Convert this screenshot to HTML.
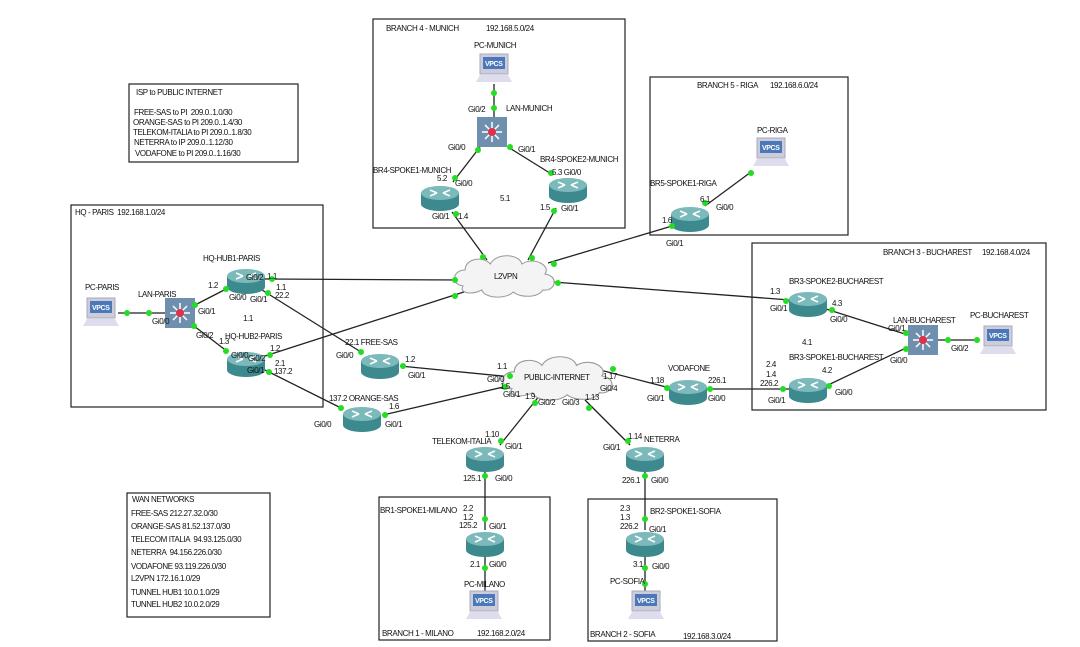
<!DOCTYPE html>
<html><head><meta charset="utf-8"><style>
html,body{margin:0;padding:0;background:#fff;}
svg{display:block;}
text{font-family:"Liberation Sans",sans-serif;font-size:8px;fill:#111;letter-spacing:-0.4px;white-space:pre;}
.b{fill:none;stroke:#222;stroke-width:1.2;}
.l{stroke:#222;stroke-width:1.3;}
.d{fill:#22dd22;}
</style></head><body>
<svg width="1080" height="647" viewBox="0 0 1080 647" xmlns="http://www.w3.org/2000/svg" xml:space="preserve">
<defs>
<g id="r">
<path d="M-19,-5 L-19,6 A19,7 0 0 0 19,6 L19,-5 Z" fill="#3c8a8e"/>
<ellipse cx="0" cy="-5" rx="19" ry="7" fill="#7bb9bb"/>
<path d="M-10,-8 L-3,-5 M-10,-2 L-3,-5 M10,-8 L3,-5 M10,-2 L3,-5" stroke="#fff" stroke-width="1.5"/>
</g>
<g id="s">
<rect x="-15" y="-15" width="30" height="30" fill="#6f8fae"/>
<path d="M-10,0 H10 M0,-10 V10 M-7,-7 L7,7 M7,-7 L-7,7" stroke="#fff" stroke-width="1.5"/>
<circle r="4" fill="#e0304a"/>
</g>
<g id="p">
<rect x="-14" y="-14" width="28" height="20" fill="#ccd" stroke="#aab"/>
<rect x="-11" y="-11" width="22" height="12" fill="#4a78b8"/>
<text x="-9" y="-2" style="fill:#fff;font-size:7px;font-weight:bold">VPCS</text>
<path d="M-18,14 L18,14 L14,7 L-14,7 Z" fill="#dde"/>
</g>
<path id="c" d="M-40,10 C-52,8 -50,-6 -38,-6 C-38,-18 -20,-20 -14,-12 C-8,-24 14,-22 16,-12 C28,-20 44,-10 38,-2 C52,0 48,16 36,14 C32,22 14,22 8,16 C0,24 -20,22 -22,14 C-34,20 -44,16 -40,10 Z" fill="#f4f4f4" stroke="#999" stroke-width="1"/>
</defs>

<rect class="b" x="129" y="84" width="169" height="78"/>
<rect class="b" x="71" y="205" width="252" height="202"/>
<rect class="b" x="373" y="19" width="252" height="209"/>
<rect class="b" x="650" y="77" width="198" height="158"/>
<rect class="b" x="752" y="243" width="294" height="167"/>
<rect class="b" x="127" y="493" width="143" height="124"/>
<rect class="b" x="379" y="497" width="171" height="143"/>
<rect class="b" x="588" y="499" width="189" height="142"/>

<g class="l">
<line x1="118" y1="313" x2="165" y2="313"/>
<line x1="195" y1="305" x2="228" y2="288"/>
<line x1="194" y1="326" x2="228" y2="352"/>
<line x1="265" y1="279" x2="462" y2="280"/>
<line x1="262" y1="290" x2="361" y2="352"/>
<line x1="265" y1="356" x2="470" y2="290"/>
<line x1="265" y1="370" x2="341" y2="408"/>
<line x1="400" y1="366" x2="512" y2="377"/>
<line x1="383" y1="415" x2="512" y2="385"/>
<line x1="452" y1="212" x2="487" y2="260"/>
<line x1="556" y1="208" x2="528" y2="260"/>
<line x1="672" y1="226" x2="548" y2="263"/>
<line x1="790" y1="300" x2="553" y2="282"/>
<line x1="494" y1="84" x2="494" y2="118"/>
<line x1="480" y1="147" x2="453" y2="182"/>
<line x1="508" y1="147" x2="553" y2="175"/>
<line x1="751" y1="172" x2="705" y2="206"/>
<line x1="826" y1="309" x2="908" y2="335"/>
<line x1="826" y1="386" x2="908" y2="347"/>
<line x1="938" y1="340" x2="978" y2="340"/>
<line x1="705" y1="389" x2="790" y2="389"/>
<line x1="600" y1="370" x2="670" y2="388"/>
<line x1="540" y1="395" x2="500" y2="445"/>
<line x1="585" y1="400" x2="630" y2="445"/>
<line x1="485" y1="470" x2="485" y2="530"/>
<line x1="645" y1="470" x2="645" y2="530"/>
<line x1="485" y1="556" x2="485" y2="592"/>
<line x1="645" y1="556" x2="645" y2="592"/>
</g>

<use href="#c" transform="translate(505,276) scale(1.05,1)"/>
<use href="#c" transform="translate(558,378) scale(1.15,1.05)"/>
<text x="494" y="279">L2VPN</text>
<text x="524" y="380">PUBLIC-INTERNET</text>

<use href="#r" x="246" y="281"/><use href="#r" x="246" y="364"/>
<use href="#r" x="380" y="366"/><use href="#r" x="362" y="419"/>
<use href="#r" x="440" y="198"/><use href="#r" x="568" y="190"/>
<use href="#r" x="690" y="219"/><use href="#r" x="808" y="304"/>
<use href="#r" x="808" y="390"/><use href="#r" x="688" y="392"/>
<use href="#r" x="485" y="459"/><use href="#r" x="645" y="459"/>
<use href="#r" x="485" y="544"/><use href="#r" x="645" y="544"/>
<use href="#s" x="180" y="313"/><use href="#s" x="492" y="132"/><use href="#s" x="923" y="340"/>
<use href="#p" x="101" y="312"/><use href="#p" x="494" y="68"/><use href="#p" x="771" y="152"/>
<use href="#p" x="998" y="340"/><use href="#p" x="484" y="605"/><use href="#p" x="646" y="605"/>

<g class="d">
<circle cx="127" cy="313" r="3"/><circle cx="149" cy="313" r="3"/>
<circle cx="195" cy="305" r="3"/><circle cx="226" cy="289" r="3"/>
<circle cx="194" cy="326" r="3"/><circle cx="226" cy="351" r="3"/>
<circle cx="272" cy="279" r="3"/><circle cx="455" cy="280" r="3"/>
<circle cx="268" cy="293" r="3"/><circle cx="361" cy="352" r="3"/>
<circle cx="270" cy="355" r="3"/><circle cx="455" cy="296" r="3"/>
<circle cx="269" cy="372" r="3"/><circle cx="341" cy="408" r="3"/>
<circle cx="403" cy="366" r="3"/><circle cx="510" cy="376" r="3"/>
<circle cx="385" cy="415" r="3"/><circle cx="505" cy="387" r="3"/>
<circle cx="456" cy="214" r="3"/><circle cx="483" cy="257" r="3"/>
<circle cx="554" cy="211" r="3"/><circle cx="532" cy="258" r="3"/>
<circle cx="672" cy="226" r="3"/><circle cx="554" cy="264" r="3"/>
<circle cx="786" cy="301" r="3"/><circle cx="558" cy="283" r="3"/>
<circle cx="494" cy="93" r="3"/><circle cx="494" cy="108" r="3"/>
<circle cx="478" cy="150" r="3"/><circle cx="455" cy="178" r="3"/>
<circle cx="510" cy="147" r="3"/><circle cx="551" cy="173" r="3"/>
<circle cx="751" cy="173" r="3"/><circle cx="705" cy="203" r="3"/>
<circle cx="832" cy="310" r="3"/><circle cx="906" cy="333" r="3"/>
<circle cx="829" cy="386" r="3"/><circle cx="906" cy="349" r="3"/>
<circle cx="948" cy="340" r="3"/><circle cx="977" cy="340" r="3"/>
<circle cx="710" cy="389" r="3"/><circle cx="783" cy="389" r="3"/>
<circle cx="613" cy="369" r="3"/><circle cx="667" cy="388" r="3"/>
<circle cx="535" cy="403" r="3"/><circle cx="501" cy="441" r="3"/>
<circle cx="589" cy="408" r="3"/><circle cx="628" cy="441" r="3"/>
<circle cx="485" cy="476" r="3"/><circle cx="485" cy="519" r="3"/>
<circle cx="645" cy="476" r="3"/><circle cx="645" cy="519" r="3"/>
<circle cx="485" cy="568" r="3"/><circle cx="645" cy="568" r="3"/><circle cx="645" cy="584" r="3"/>
</g>

<text x="136" y="95">ISP to PUBLIC INTERNET</text>
<text x="134" y="115">FREE-SAS to PI  209.0..1.0/30</text>
<text x="133" y="125">ORANGE-SAS to PI 209.0..1.4/30</text>
<text x="133" y="135">TELEKOM-ITALIA to PI 209.0..1.8/30</text>
<text x="134" y="145">NETERRA to IP 209.0..1.12/30</text>
<text x="135" y="156">VODAFONE to PI 209.0..1.16/30</text>

<text x="132" y="502">WAN NETWORKS</text>
<text x="131" y="516">FREE-SAS 212.27.32.0/30</text>
<text x="131" y="529">ORANGE-SAS 81.52.137.0/30</text>
<text x="131" y="542">TELECOM ITALIA  94.93.125.0/30</text>
<text x="131" y="555">NETERRA  94.156.226.0/30</text>
<text x="131" y="569">VODAFONE 93.119.226.0/30</text>
<text x="131" y="581">L2VPN 172.16.1.0/29</text>
<text x="131" y="595">TUNNEL HUB1 10.0.1.0/29</text>
<text x="131" y="607">TUNNEL HUB2 10.0.2.0/29</text>

<text x="75" y="215">HQ - PARIS  192.168.1.0/24</text>
<text x="386" y="31">BRANCH 4 - MUNICH</text><text x="486" y="31">192.168.5.0/24</text>
<text x="697" y="88">BRANCH 5 - RIGA</text><text x="770" y="88">192.168.6.0/24</text>
<text x="883" y="255">BRANCH 3 - BUCHAREST</text><text x="982" y="255">192.168.4.0/24</text>
<text x="382" y="636">BRANCH 1 - MILANO</text><text x="477" y="636">192.168.2.0/24</text>
<text x="590" y="637">BRANCH 2 - SOFIA</text><text x="683" y="639">192.168.3.0/24</text>

<text x="203" y="261">HQ-HUB1-PARIS</text>
<text x="85" y="290">PC-PARIS</text>
<text x="138" y="297">LAN-PARIS</text>
<text x="225" y="339">HQ-HUB2-PARIS</text>
<text x="345" y="345">22.1 FREE-SAS</text>
<text x="329" y="401">137.2 ORANGE-SAS</text>
<text x="474" y="48">PC-MUNICH</text>
<text x="506" y="111">LAN-MUNICH</text>
<text x="373" y="173">BR4-SPOKE1-MUNICH</text>
<text x="540" y="162">BR4-SPOKE2-MUNICH</text>
<text x="757" y="133">PC-RIGA</text>
<text x="650" y="186">BR5-SPOKE1-RIGA</text>
<text x="789" y="284">BR3-SPOKE2-BUCHAREST</text>
<text x="893" y="323">LAN-BUCHAREST</text>
<text x="970" y="318">PC-BUCHAREST</text>
<text x="789" y="360">BR3-SPOKE1-BUCHAREST</text>
<text x="668" y="371">VODAFONE</text>
<text x="432" y="444">TELEKOM-ITALIA</text>
<text x="644" y="442">NETERRA</text>
<text x="380" y="513">BR1-SPOKE1-MILANO</text>
<text x="650" y="514">BR2-SPOKE1-SOFIA</text>
<text x="464" y="587">PC-MILANO</text>
<text x="610" y="584">PC-SOFIA</text>

<text x="208" y="288">1.2</text><text x="246" y="280">Gi0/2</text><text x="267" y="279">1.1</text>
<text x="276" y="290">1.1</text><text x="229" y="300">Gi0/0</text><text x="250" y="302">Gi0/1</text><text x="275" y="298">22.2</text>
<text x="198" y="314">Gi0/1</text><text x="152" y="324">Gi0/0</text><text x="243" y="321">1.1</text>
<text x="196" y="338">Gi0/2</text><text x="219" y="344">1.3</text><text x="270" y="351">1.2</text>
<text x="231" y="358">Gi0/0</text><text x="248" y="361">Gi0/2</text><text x="275" y="366">2.1</text>
<text x="247" y="373">Gi0/1</text><text x="274" y="374">137.2</text>
<text x="336" y="358">Gi0/0</text><text x="405" y="362">1.2</text><text x="408" y="378">Gi0/1</text>
<text x="314" y="427">Gi0/0</text><text x="389" y="409">1.6</text><text x="385" y="427">Gi0/1</text>
<text x="468" y="112">Gi0/2</text><text x="448" y="150">Gi0/0</text><text x="518" y="152">Gi0/1</text>
<text x="437" y="181">5.2</text><text x="455" y="186">Gi0/0</text><text x="500" y="201">5.1</text>
<text x="552" y="175">5.3 Gi0/0</text><text x="432" y="219">Gi0/1</text><text x="458" y="219">1.4</text>
<text x="540" y="210">1.5</text><text x="561" y="211">Gi0/1</text>
<text x="700" y="202">6.1</text><text x="716" y="210">Gi0/0</text><text x="662" y="223">1.6</text><text x="666" y="246">Gi0/1</text>
<text x="770" y="294">1.3</text><text x="770" y="311">Gi0/1</text><text x="832" y="306">4.3</text><text x="830" y="322">Gi0/0</text>
<text x="888" y="331">Gi0/1</text><text x="802" y="345">4.1</text><text x="890" y="363">Gi0/0</text><text x="951" y="351">Gi0/2</text>
<text x="766" y="367">2.4</text><text x="766" y="377">1.4</text><text x="760" y="386">226.2</text><text x="768" y="403">Gi0/1</text>
<text x="822" y="373">4.2</text><text x="835" y="395">Gi0/0</text>
<text x="497" y="369">1.1</text><text x="487" y="382">Gi0/0</text><text x="500" y="389">1.5</text><text x="503" y="397">Gi0/1</text>
<text x="525" y="399">1.9</text><text x="538" y="405">Gi0/2</text><text x="562" y="405">Gi0/3</text><text x="585" y="400">1.13</text>
<text x="603" y="379">1.17</text><text x="600" y="391">Gi0/4</text>
<text x="650" y="383">1.18</text><text x="647" y="401">Gi0/1</text><text x="708" y="383">226.1</text><text x="708" y="401">Gi0/0</text>
<text x="485" y="437">1.10</text><text x="505" y="449">Gi0/1</text><text x="463" y="481">125.1</text><text x="495" y="481">Gi0/0</text>
<text x="628" y="439">1.14</text><text x="603" y="450">Gi0/1</text><text x="622" y="483">226.1</text><text x="651" y="483">Gi0/0</text>
<text x="463" y="511">2.2</text><text x="463" y="520">1.2</text><text x="459" y="528">125.2</text><text x="489" y="529">Gi0/1</text>
<text x="470" y="567">2.1</text><text x="489" y="567">Gi0/0</text>
<text x="620" y="511">2.3</text><text x="620" y="520">1.3</text><text x="620" y="529">226.2</text><text x="649" y="532">Gi0/1</text>
<text x="633" y="567">3.1</text><text x="652" y="569">Gi0/0</text>
</svg>
</body></html>
